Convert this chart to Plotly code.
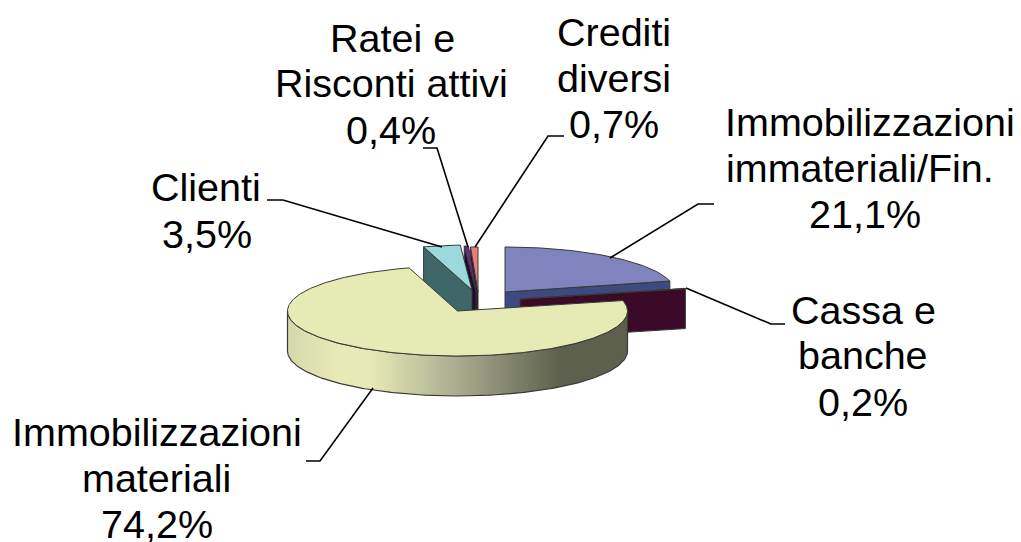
import math
import plotly.graph_objects as go

# ---- data ----
names = ["Immobilizzazioni immateriali/Fin.", "Cassa e banche", "Immobilizzazioni materiali",
         "Clienti", "Ratei e Risconti attivi", "Crediti diversi"]
values = [21.1, 0.2, 74.2, 3.5, 0.4, 0.7]
label_lines = [["Immobilizzazioni", "immateriali/Fin.", "21,1%"],
               ["Cassa e", "banche", "0,2%"],
               ["Immobilizzazioni", "materiali", "74,2%"],
               ["Clienti", "3,5%"],
               ["Ratei e", "Risconti attivi", "0,4%"],
               ["Crediti", "diversi", "0,7%"]]

# ---- styles / layout ----
top_colors = ["#7f84bf", "#3a0a28", "#e6ebb5", "#9bd9dc", "#6a2a90", "#f07a78"]
wall_colors = ["#3d4a80", "#3a0a28", "#8a8c70", "#3f6668", "#1c0a30", "#2e0a2e"]
EDGE = "#3a3a34"
CX, CY, RX, RY, DEPTH = 457.5, 311.0, 170.0, 45.0, 40.0
explode = [(47.5, -19), (62.5, -12), (0, 0), (14.5, -21), (18.5, -20), (20.5, -19)]
label_pos = [([870, 860, 865], [135, 181, 227]), ([863, 863, 863], [323, 368, 415]),
             ([157, 156, 157], [445, 491, 537]), ([206, 207], [200, 247]),
             ([392, 391, 391], [51, 96, 143]), ([614, 614, 614], [45, 91, 137])]
leaders = [[(610, 258), (698, 204), (714, 204)],
           [(686, 288), (771, 324), (785, 324)],
           [(373, 388), (320, 461), (306, 461)],
           [(442, 247), (283, 200), (267, 200)],
           [(468, 247), (437, 148), (423, 148)],
           [(475, 247), (548, 136), (564, 136)]]
FONT = "Liberation Sans, Arial, sans-serif"
FSIZE = 39.5
gradient = [(288, "#d5d8ab"), (340, "#e8ebb7"), (372, "#e6e9b5"),
            (450, "#aeb193"), (560, "#5d604c"), (627, "#5d604c")]

fig = go.Figure()


def pt(ax, ay, t, dz=0.0):
    r = math.radians(t)
    return ax + RX * math.sin(r), ay - RY * math.cos(r) + dz


def arc(ax, ay, a, b, dz=0.0, step=1.0):
    n = max(2, int(abs(b - a) / step) + 1)
    return [pt(ax, ay, a + (b - a) * i / (n - 1), dz) for i in range(n)]


def poly(points, fill, line=EDGE, width=1.0, **kw):
    xs = [p[0] for p in points] + [points[0][0]]
    ys = [p[1] for p in points] + [points[0][1]]
    if fill is not None:
        kw["fillcolor"] = fill
    fig.add_trace(go.Scatter(x=xs, y=ys, mode="lines", fill="toself",
                             line=dict(color=line, width=width), hoverinfo="skip", showlegend=False, **kw))


# slice angles, clockwise from 12 o'clock, straight from the values
total = sum(values)
angles = []
acc = 0.0
for v in values:
    angles.append((acc, acc + v / total * 360))
    acc += v / total * 360


def draw_slice(i):
    a, b = angles[i]
    ax, ay = CX + explode[i][0], CY + explode[i][1]
    faces = []
    if math.sin(math.radians(b)) > 1e-6:
        faces.append(b)
    if math.sin(math.radians(a)) < -1e-6:
        faces.append(a)
    for t in faces:
        p = pt(ax, ay, t)
        q = pt(ax, ay, t, DEPTH)
        poly([(ax, ay), p, q, (ax, ay + DEPTH)], wall_colors[i])
    lo, hi = max(a, 90), min(b, 270)
    if lo < hi:
        # outer rim with a left-to-right shading
        pts = arc(ax, ay, lo, hi) + arc(ax, ay, hi, lo, DEPTH)
        x0, x1 = min(p[0] for p in pts), max(p[0] for p in pts)
        scale = [[(x - gradient[0][0]) / (gradient[-1][0] - gradient[0][0]), c] for x, c in gradient]
        poly(pts, None, line=EDGE, width=1.2, fillgradient=dict(type="horizontal", colorscale=scale))
    poly([(ax, ay)] + arc(ax, ay, a, b), top_colors[i])


for i in [0, 1, 5, 4, 3, 2]:
    draw_slice(i)

for pts in leaders:
    fig.add_trace(go.Scatter(x=[p[0] for p in pts], y=[p[1] for p in pts], mode="lines",
                             line=dict(color="#000000", width=1.6), hoverinfo="skip", showlegend=False))

annotations = []
for lines, (xs, bases) in zip(label_lines, label_pos):
    for line, x, base in zip(lines, xs, bases):
        annotations.append(dict(x=x, y=base - 0.36 * FSIZE + 1, text=line, showarrow=False, xanchor="center",
                                yanchor="middle", font=dict(family=FONT, size=FSIZE, color="#000000")))

fig.update_layout(width=1021, height=542, margin=dict(l=0, r=0, t=0, b=0), autosize=False,
                  paper_bgcolor="#ffffff", plot_bgcolor="#ffffff", showlegend=False,
                  annotations=annotations,
                  xaxis=dict(range=[0, 1021], visible=False, fixedrange=True),
                  yaxis=dict(range=[542, 0], visible=False, fixedrange=True))
fig.write_html("out.html", config=dict(displayModeBar=False),
               post_script="document.body.style.margin='0';document.documentElement.style.overflow='hidden';")
